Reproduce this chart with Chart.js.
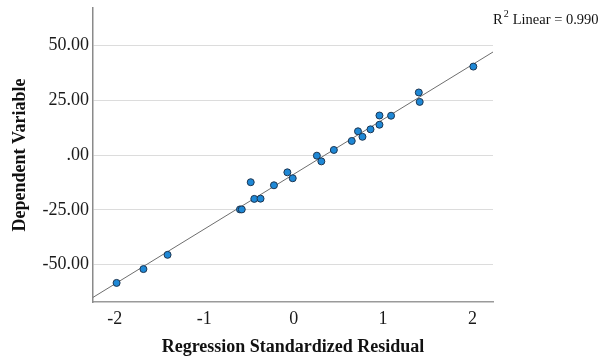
<!DOCTYPE html>
<html>
<head>
<meta charset="utf-8">
<script src="https://cdn.jsdelivr.net/npm/chart.js@4"></script>
<style>
    html, body { margin: 0; padding: 0; background: #fff; }
    #wrap { width: 600px; height: 361px; position: relative; }
</style>
</head>
<body>
<div id="wrap"><canvas id="chart-residual"></canvas></div>
<script>
// Scatter of dependent variable vs. regression standardized residual, with linear fit.

const residuals = [-1.98, -1.68, -1.41, -0.60, -0.58, -0.48, -0.44, -0.37, -0.22, -0.07, -0.01,
    0.26, 0.31, 0.45, 0.65, 0.72, 0.77, 0.86, 0.96, 0.96, 1.09, 1.40, 1.41, 2.01];
const dependent = [-58.3, -52.0, -45.5, -24.8, -24.8, -12.4, -20.0, -19.9, -13.8, -7.9, -10.6,
    -0.3, -2.9, 2.3, 6.4, 10.8, 8.3, 11.7, 18.0, 13.8, 17.9, 28.5, 24.2, 40.3];

// fit line end points, read at the plot edges
const fitX = [-2.244, 2.23];
const fitY = [-64.9, 46.95];

const xTicks = [-2, -1, 0, 1, 2];
const yTicks = [-50, -25, 0, 25, 50];

const SERIF = '"Liberation Serif", "Times New Roman", serif';

const rSquaredLabel = {
    id: 'rSquaredLabel',
    afterDraw(chart) {
        const ctx = chart.ctx;
        ctx.save();
        ctx.fillStyle = '#111';
        ctx.textBaseline = 'alphabetic';
        ctx.font = `14.5px ${SERIF}`;
        let x = 493;
        const y = 24;
        ctx.fillText('R', x, y);
        x += ctx.measureText('R').width;
        ctx.font = `10px ${SERIF}`;
        ctx.fillText('2', x + 1, y - 7);
        x += ctx.measureText('2').width + 5;
        ctx.font = `14.5px ${SERIF}`;
        ctx.fillText('Linear = 0.990', x, y);
        ctx.restore();
    },
};

const canvas = document.getElementById('chart-residual');

new Chart(canvas, {
    type: 'scatter',
    data: {
        datasets: [
            {
                label: 'Observed',
                data: residuals.map((r, i) => ({ x: r, y: dependent[i] })),
                backgroundColor: '#1e88d6',
                borderColor: '#1d3550',
                borderWidth: 1,
                pointRadius: 3.5,
                order: 0,
            },
            {
                label: 'Linear fit',
                type: 'line',
                data: fitX.map((x, i) => ({ x, y: fitY[i] })),
                borderColor: '#6e6e6e',
                borderWidth: 1,
                pointRadius: 0,
                fill: false,
                order: 1,
            },
        ],
    },
    options: {
        responsive: true,
        maintainAspectRatio: false,
        animation: false,
        layout: { padding: { top: 8, right: 107, left: 0, bottom: 0 } },
        plugins: {
            legend: { display: false },
            tooltip: { enabled: false },
        },
        scales: {
            x: {
                type: 'linear',
                min: -2.244,
                max: 2.23,
                afterBuildTicks: s => { s.ticks = xTicks.map(v => ({ value: v })); },
                afterFit: s => { s.height = 59; s.paddingLeft = 0; s.paddingRight = 0; },
                grid: { display: false, drawTicks: false },
                border: { display: true, color: '#9a9a9a', width: 1.5 },
                ticks: {
                    color: '#1a1a1a',
                    padding: 6,
                    font: { family: SERIF, size: 18 },
                    callback: v => String(v),
                },
                title: {
                    display: true,
                    text: 'Regression Standardized Residual',
                    color: '#111',
                    font: { family: SERIF, size: 18, weight: 'bold' },
                    padding: { top: 0, bottom: 3 },
                },
            },
            y: {
                min: -67,
                max: 67,
                afterBuildTicks: s => { s.ticks = yTicks.map(v => ({ value: v })); },
                afterFit: s => { s.width = 93; s.paddingTop = 0; s.paddingBottom = 0; },
                grid: { color: '#dcdcdc', drawTicks: false },
                border: { display: true, color: '#8a8a8a', width: 1.5 },
                ticks: {
                    color: '#1a1a1a',
                    padding: 4,
                    font: { family: SERIF, size: 18 },
                    callback: v => (v === 0 ? '.00' : v.toFixed(2)),
                },
                title: {
                    display: true,
                    text: 'Dependent Variable',
                    color: '#111',
                    font: { family: SERIF, size: 18, weight: 'bold' },
                    padding: { top: 10, bottom: 0 },
                },
            },
        },
    },
    plugins: [rSquaredLabel],
});
</script>
</body>
</html>
